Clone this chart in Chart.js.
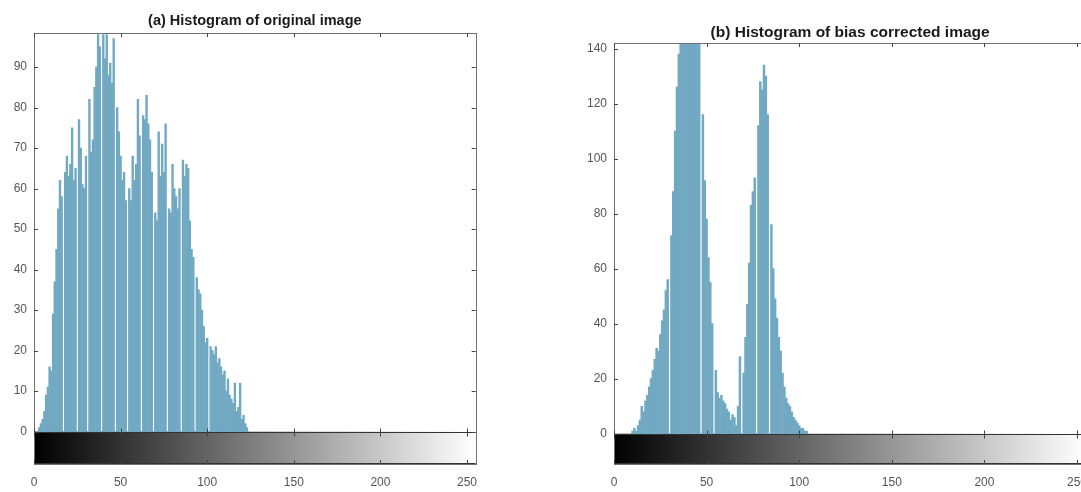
<!DOCTYPE html>
<html>
<head>
<meta charset="utf-8">
<script src="https://cdn.jsdelivr.net/npm/chart.js@4.4.0/dist/chart.umd.min.js"></script>
<style>
  html, body { margin: 0; padding: 0; background: #fff; overflow: hidden; }
  body { width: 1081px; height: 492px; position: relative; }
  .box { position: absolute; top: 0; height: 492px; }
  #boxA { left: 0; width: 488px; }
  #boxB { left: 580px; width: 518px; }
</style>
</head>
<body>
<div class="box" id="boxA"><canvas id="histA"></canvas></div>
<div class="box" id="boxB"><canvas id="histB"></canvas></div>
<script>
// grey levels 0..255, counts
const titleA = '(a) Histogram of original image';
const titleB = '(b) Histogram of bias corrected image';
const xTicks = [0, 50, 100, 150, 200, 250];
const yTicksA = [0, 10, 20, 30, 40, 50, 60, 70, 80, 90];
const yTicksB = [0, 20, 40, 60, 80, 100, 120, 140];

// original image, first bin = 3
const startA = 3;
const countsA = [
  1, 2, 3, 5, 9, 11, 16, 15, 29, 37, 45, 55, 62, 58, 0, 64, 68, 63, 66, 75,
  62, 65, 0, 77, 70, 61, 60, 68, 0, 82, 69, 72, 85, 90, 98, 95, 0, 98, 92, 98,
  88, 91, 86, 97, 0, 80, 74, 68, 62, 64, 57, 0, 60, 57, 68, 62, 66, 82, 73, 0,
  78, 77, 83, 76, 72, 64, 0, 54, 52, 74, 63, 71, 64, 76, 0, 55, 54, 66, 60, 58,
  55, 60, 0, 67, 63, 66, 65, 52, 45, 43, 0, 38, 35, 34, 30, 26, 22, 23, 0, 21,
  20, 19, 21, 17, 18, 16, 14, 15, 10, 13, 9, 8, 7, 12, 5, 6, 12, 3, 4, 2, 1
];

// bias corrected image, first bin = 10
const startB = 10;
const countsB = [
  1, 2, 1, 3, 5, 10, 8, 12, 14, 17, 20, 23, 27, 31, 30, 36, 41, 45, 52, 56,
  0, 72, 88, 110, 126, 138, 150, 160, 170, 180, 175, 185, 178, 170, 165, 160, 150, 0, 116, 92,
  78, 64, 55, 40, 0, 23, 15, 13, 14, 12, 11, 9, 8, 5, 7, 6, 3, 10, 28, 0,
  22, 35, 47, 62, 83, 88, 93, 0, 112, 128, 125, 134, 130, 116, 0, 76, 60, 49, 42, 35,
  30, 22, 17, 13, 11, 10, 8, 6, 5, 4, 3, 2, 2, 1, 1
];

const barColor = '#72a9c2';
const axisColor = '#707070';
const labelFont = { family: '"Liberation Sans", Arial, sans-serif', size: 12 };

function toPoints(start, counts) {
  return counts.map((c, i) => ({ x: start + i, y: c }));
}

// grey colour strip under zero, box and inward ticks like the matlab axes
const histFrame = {
  id: 'histFrame',
  beforeDatasetsDraw(chart) {
    const { ctx, chartArea: a, scales: { x, y } } = chart;
    const x0 = x.getPixelForValue(0), x1 = x.getPixelForValue(255);
    const y0 = y.getPixelForValue(0);
    const g = ctx.createLinearGradient(x0, 0, x1, 0);
    g.addColorStop(0, '#000');
    g.addColorStop(1, '#fff');
    ctx.save();
    ctx.fillStyle = g;
    ctx.fillRect(x0, y0, x1 - x0, a.bottom - y0);
    ctx.restore();
  },
  afterDatasetsDraw(chart, args, opts) {
    const { ctx, chartArea: a, scales: { x, y } } = chart;
    const y0 = Math.round(y.getPixelForValue(0)) + 0.5;
    ctx.save();
    ctx.lineWidth = 1;
    ctx.strokeStyle = axisColor;
    ctx.strokeRect(Math.round(a.left) + 0.5, Math.round(a.top) + 0.5,
      Math.round(a.right - a.left), Math.round(a.bottom - a.top));
    ctx.strokeStyle = '#333';
    ctx.beginPath();
    ctx.moveTo(a.left, y0); ctx.lineTo(a.right, y0);
    ctx.moveTo(a.left, a.bottom - 0.5); ctx.lineTo(a.right, a.bottom - 0.5);
    ctx.stroke();
    ctx.strokeStyle = '#444';
    ctx.beginPath();
    y.ticks.forEach(t => {
      const py = Math.round(y.getPixelForValue(t.value)) + 0.5;
      ctx.moveTo(a.left, py); ctx.lineTo(a.left + 4, py);
      ctx.moveTo(a.right, py); ctx.lineTo(a.right - 4, py);
    });
    x.ticks.forEach(t => {
      const px = Math.round(x.getPixelForValue(t.value)) + 0.5;
      ctx.moveTo(px, a.top); ctx.lineTo(px, a.top + 4);
      ctx.moveTo(px, y0 - 4); ctx.lineTo(px, y0 + 4);
      ctx.moveTo(px, a.bottom); ctx.lineTo(px, a.bottom - 4);
    });
    ctx.stroke();
    // title centred over the axes
    ctx.fillStyle = '#1a1a1a';
    ctx.font = 'bold ' + opts.size + 'px "Liberation Sans", Arial, sans-serif';
    ctx.textAlign = 'center';
    ctx.textBaseline = 'middle';
    ctx.fillText(opts.text, (a.left + a.right) / 2, opts.y);
    ctx.restore();
  }
};

function makeHist(id, points, yMin, yMax, yTicks, title, topPad, titleY, titleSize) {
  return new Chart(document.getElementById(id), {
    type: 'bar',
    data: {
      datasets: [{
        data: points,
        backgroundColor: barColor,
        borderWidth: 0,
        barPercentage: 1,
        categoryPercentage: 1
      }]
    },
    options: {
      responsive: true,
      maintainAspectRatio: false,
      animation: false,
      events: [],
      layout: { padding: { top: topPad, left: 0, right: 0, bottom: 0 } },
      plugins: {
        legend: { display: false },
        tooltip: { enabled: false },
        title: { display: false },
        histFrame: { text: title, y: titleY, size: titleSize }
      },
      scales: {
        x: {
          type: 'linear',
          min: 0,
          max: 255,
          offset: false,
          grid: { display: false, drawTicks: false, offset: false },
          border: { display: false },
          ticks: { color: '#555', font: labelFont, padding: 11, maxRotation: 0 },
          afterBuildTicks: s => { s.ticks = xTicks.map(v => ({ value: v })); },
          afterFit: s => { s.height = 28; }
        },
        y: {
          min: yMin,
          max: yMax,
          grid: { display: false, drawTicks: false },
          border: { display: false },
          ticks: { color: '#555', font: labelFont, padding: 7 },
          afterBuildTicks: s => { s.ticks = yTicks.map(v => ({ value: v })); },
          afterFit: s => { s.width = 34; }
        }
      }
    },
    plugins: [histFrame]
  });
}

makeHist('histA', toPoints(startA, countsA), -8, 98.4, yTicksA, titleA, 33, 21, 14.5);
makeHist('histB', toPoints(startB, countsB), -11, 142, yTicksB, titleB, 43, 32.5, 15.5);
</script>
</body>
</html>
